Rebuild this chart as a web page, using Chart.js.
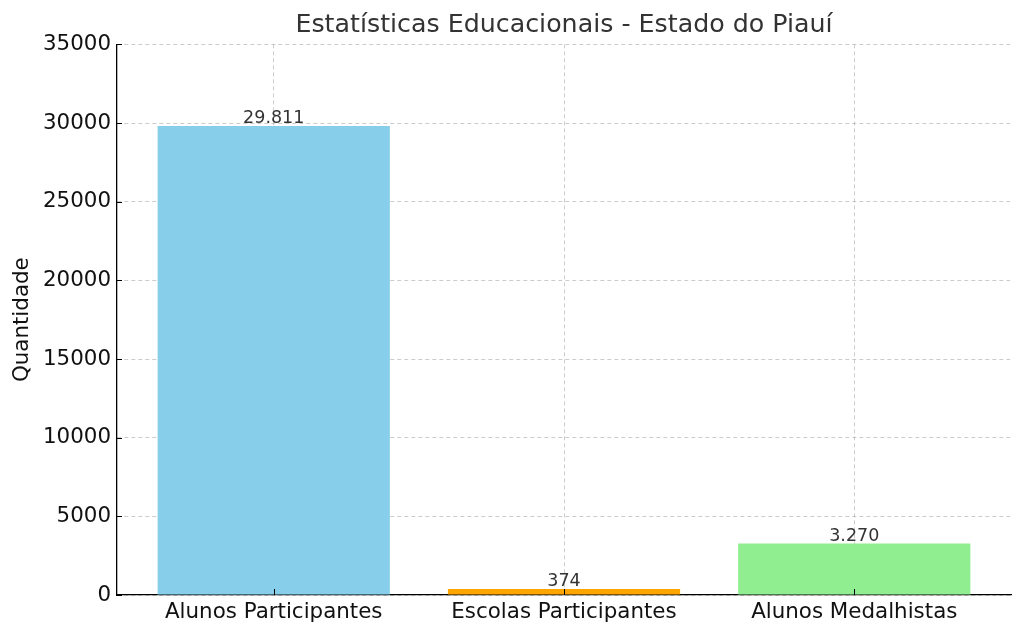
<!DOCTYPE html>
<html>
<head>
<meta charset="utf-8">
<script src="https://cdn.jsdelivr.net/npm/chart.js@4/dist/chart.umd.min.js"></script>
<style>
  html, body { margin: 0; padding: 0; background: #fff; }
  #wrap { width: 1024px; height: 635px; }
</style>
</head>
<body>
<div id="wrap"><canvas id="c" width="1024" height="635"></canvas></div>
<script>
// dados
const categories = ['Alunos Participantes', 'Escolas Participantes', 'Alunos Medalhistas'];
const values = [29811, 374, 3270];
const barColors = ['#87CEEB', '#FFA500', '#90EE90'];
const yTicks = [0, 5000, 10000, 15000, 20000, 25000, 30000, 35000];

const FONT = "'DejaVu Sans', sans-serif";

// 29811 -> "29.811"
function fmt(v) {
    return String(v).replace(/\B(?=(\d{3})+(?!\d))/g, '.');
}

// rótulos em cima das barras
const barLabels = {
    id: 'barLabels',
    afterDraw(chart) {
        const ctx = chart.ctx;
        const meta = chart.getDatasetMeta(0);
        ctx.save();
        ctx.font = '17.5px ' + FONT;
        ctx.fillStyle = '#333';
        ctx.textAlign = 'center';
        ctx.textBaseline = 'alphabetic';
        meta.data.forEach((bar, i) => {
            ctx.fillText(fmt(values[i]), bar.x, bar.y - 3);
        });
        ctx.restore();
    }
};

// marcas de tick para dentro, como no matplotlib
const innerTicks = {
    id: 'innerTicks',
    afterDraw(chart) {
        const { ctx, chartArea, scales } = chart;
        ctx.save();
        ctx.strokeStyle = '#000';
        ctx.lineWidth = 1;
        ctx.beginPath();
        scales.y.ticks.forEach(t => {
            const py = Math.round(scales.y.getPixelForValue(t.value)) + 0.5;
            ctx.moveTo(chartArea.left, py);
            ctx.lineTo(chartArea.left + 5, py);
        });
        scales.x.ticks.forEach(t => {
            const px = Math.round(scales.x.getPixelForValue(t.value)) + 0.5;
            ctx.moveTo(px, chartArea.bottom);
            ctx.lineTo(px, chartArea.bottom - 6);
        });
        ctx.stroke();
        ctx.restore();
    }
};

// título centrado sobre a área do gráfico (como no matplotlib)
const centerTitle = {
    id: 'centerTitle',
    afterLayout(chart) {
        const tb = chart.titleBlock;
        if (tb) {
            tb.left = chart.chartArea.left;
            tb.right = chart.chartArea.right;
        }
    }
};

const gridStyle = { color: 'rgba(170,170,170,0.6)', lineWidth: 1, drawTicks: false };

new Chart(document.getElementById('c'), {
    type: 'bar',
    data: {
        datasets: [{
            data: values.map((v, i) => ({ x: i, y: v })),
            backgroundColor: barColors,
            borderWidth: 0,
            categoryPercentage: 1,
            barPercentage: 0.8
        }]
    },
    options: {
        responsive: false,
        animation: false,
        devicePixelRatio: 1,
        layout: { padding: { left: 0, right: 13, top: 0, bottom: 0 } },
        plugins: {
            legend: { display: false },
            tooltip: { enabled: false },
            title: {
                display: true,
                text: 'Estatísticas Educacionais - Estado do Piauí',
                color: '#333',
                font: { family: FONT, size: 25.3, weight: 'normal' },
                padding: { top: 10, bottom: 4 }
            }
        },
        scales: {
            x: {
                type: 'linear',
                min: -0.54,
                max: 2.54,
                offset: false,
                z: 1,
                grid: Object.assign({ offset: false }, gridStyle),
                border: { display: true, color: '#000', width: 1.3, dash: [4, 3] },
                afterBuildTicks(scale) {
                    scale.ticks = categories.map((_, i) => ({ value: i }));
                },
                afterFit(scale) { scale.height = 40; },
                ticks: {
                    color: '#111',
                    font: { family: FONT, size: 21.4 },
                    padding: 5,
                    maxRotation: 0,
                    autoSkip: false,
                    callback: (v) => categories[v]
                }
            },
            y: {
                min: 0,
                max: 35000,
                z: 1,
                grid: gridStyle,
                border: { display: true, color: '#000', width: 1.3, dash: [4, 3] },
                afterBuildTicks(scale) {
                    scale.ticks = yTicks.map(v => ({ value: v }));
                },
                afterFit(scale) { scale.width = 117; },
                ticks: {
                    color: '#111',
                    font: { family: FONT, size: 21.4 },
                    padding: 6,
                    callback: (v) => String(v)
                },
                title: {
                    display: true,
                    text: 'Quantidade',
                    color: '#111',
                    font: { family: FONT, size: 21.4 },
                    padding: { top: 10, bottom: 0 }
                }
            }
        }
    },
    plugins: [barLabels, innerTicks, centerTitle]
});
</script>
</body>
</html>
